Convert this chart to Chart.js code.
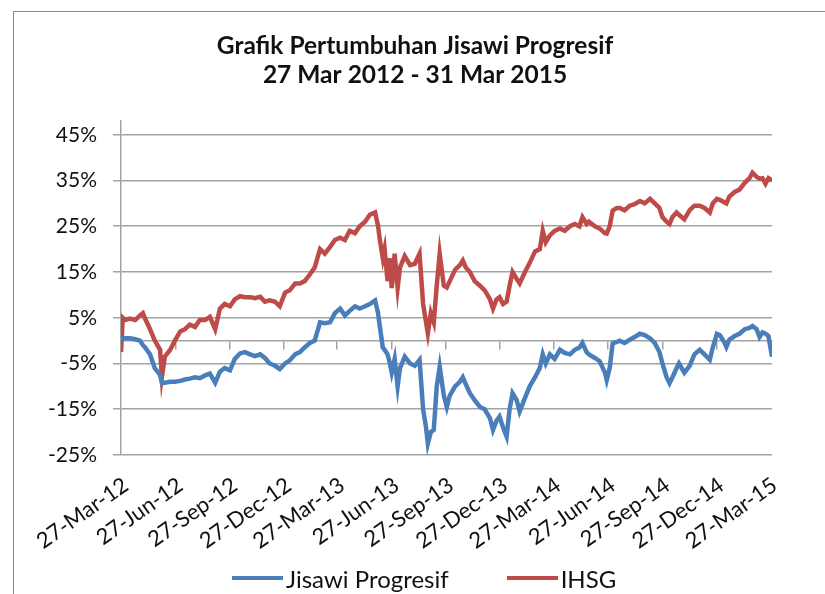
<!DOCTYPE html>
<html><head><meta charset="utf-8">
<script src="https://cdn.jsdelivr.net/npm/chart.js@4.4.1/dist/chart.umd.min.js"></script>
<style>
html,body{margin:0;padding:0;background:#fff;}
#wrap{position:relative;width:825px;height:594px;overflow:hidden;}
#frame{position:absolute;left:13px;top:11px;width:900px;height:700px;border:1px solid #8a8a8a;box-sizing:border-box;}
canvas{position:absolute;left:0;top:0;}
#legend{position:absolute;left:232px;top:563px;height:30px;display:flex;align-items:center;white-space:nowrap;
  font-family:Lato,"Open Sans",sans-serif;font-size:24px;color:#111;}
#legend .item{display:flex;align-items:center;margin-right:58px;}
#legend .sw{display:inline-block;width:51px;height:4px;margin-right:3px;}
</style></head><body>
<div id="wrap"><div id="frame"></div><canvas id="c" width="825" height="594"></canvas><div id="legend"></div></div>
<script>
// days since 27 Mar 2012
const dayOffsets = [0,3,7,15,24,32,37,40,49,57,66,69,74,83,91,100,108,116,125,133,142,150,159,167,175,184,192,201,209,218,226,235,243,251,260,268,277,285,294,302,310,319,327,336,344,353,361,370,378,386,395,403,412,420,429,434,437,442,445,450,454,457,462,467,471,479,488,496,504,510,515,518,523,528,533,538,545,550,555,564,572,577,582,589,597,606,614,623,628,634,639,645,651,656,661,668,673,682,690,699,707,712,717,724,732,741,749,758,766,774,779,786,790,800,808,817,820,825,830,837,842,850,859,867,876,884,893,901,909,914,921,926,931,938,942,951,960,968,977,985,994,999,1006,1011,1019,1022,1027,1036,1044,1053,1061,1066,1073,1078,1083,1088,1093,1099];
const ihsg = [-2.5,5,4.5,4.8,4.5,5.5,6,5,2.5,0,-2,-8,-3.5,-2,0,2,2.5,3.5,3,4.5,4.5,5.2,2.5,7,8,7.5,9,9.7,9.5,9.5,9.3,9.6,8.5,8.8,8.5,7.5,10.5,11,12.5,12.5,13,14.5,16,20,19,20.5,22,22.5,22,24,23.5,25,26,27.5,28,25,22,18,20,13,18,11.5,19,11.5,16,18.5,16.5,16.8,19,8,4,1.6,6,4,12,19,12,11.6,13,15.5,16.5,17.5,16,15,13,12,11,9,7,9,9.5,8,8.5,12,15,13.5,12.5,15,17,19.5,20,24,21.5,23,24,24.5,24,25,25.5,25,27,25.5,26,25,24.5,23.5,23.4,25,28.4,29,29,28.5,29.5,29.8,30.5,30,31,30,29,27,26,25.5,27,28,27.5,26.5,28.5,29.5,29.5,29,28,30,31,30.8,30.2,30,31.5,32.5,33,34.5,35.5,36.7,35.8,35.4,35.5,34.3,35.5,35];
const jisawi = [0,0.5,0.5,0.5,0.3,0,-1,-1.4,-3,-6,-7.5,-9.3,-9.2,-9,-9,-8.8,-8.5,-8.3,-8,-8.2,-7.6,-7.2,-9.2,-6.8,-6,-6.5,-4,-2.8,-2.5,-3,-3.4,-3,-3.8,-5,-5.5,-6.2,-5,-4.3,-3,-2.5,-1.5,-0.5,0,4,3.8,4,6,7,5.5,6.5,7.5,7,7.5,8,8.8,6,3,-1.5,-2,-3,-5,-7,-4,-10,-6,-3.5,-5,-5.5,-4.2,-15,-19,-22.5,-20,-19.5,-10,-5.7,-12,-14.5,-12,-10,-9,-8,-9.5,-11.5,-13,-14.5,-15,-17,-19.5,-17.5,-16.6,-19,-21,-15,-11.5,-13,-15.5,-12.5,-10,-8,-6,-3,-5,-3,-4,-2,-2.7,-3,-2,-1.5,-0.5,-2.5,-3,-3.8,-4.5,-7,-8.6,-6,-0.6,-0.3,0,-0.5,0.2,0.8,1.5,1.2,0.5,-0.5,-2.5,-5,-8,-9.3,-8,-6,-5,-7,-5.5,-3,-2,-3,-4.2,-1.5,1.5,1.2,-0.5,-1.4,0.2,1,1.5,2.5,2.8,3.2,2.5,0.8,1.8,1.5,1,-3.5];
const tickDays = [0,92,184,275,365,457,549,640,730,822,914,1005,1095];
const tickLabels = ['27-Mar-12','27-Jun-12','27-Sep-12','27-Dec-12','27-Mar-13','27-Jun-13','27-Sep-13','27-Dec-13','27-Mar-14','27-Jun-14','27-Sep-14','27-Dec-14','27-Mar-15'];
const yTicks = [-25,-15,-5,5,15,25,35,45];
const seriesNames = ['Jisawi Progresif','IHSG'];
const seriesColors = ['#4a7ebb','#be4b48'];

const gridCol = '#a3a3a3';
const FONT = 'Lato, "Open Sans", sans-serif';
const toPts = arr => dayOffsets.map((d,i)=>({x:d,y:arr[i]}));
const setXTicks = s => { s.ticks = tickDays.map(v=>({value:v})); };

const htmlLegend = {
  id:'htmlLegend',
  afterUpdate(chart){
    const box = document.getElementById('legend');
    box.innerHTML = '';
    const items = Chart.defaults.plugins.legend.labels.generateLabels(chart);
    items.forEach(it=>{
      const d = document.createElement('span'); d.className='item';
      const sw = document.createElement('span'); sw.className='sw'; sw.style.background = it.strokeStyle;
      const t = document.createElement('span'); t.textContent = it.text;
      d.appendChild(sw); d.appendChild(t); box.appendChild(d);
    });
  }
};

new Chart(document.getElementById('c'), {
  type: 'line',
  data: { datasets: [
    {label: seriesNames[0], data: toPts(jisawi), borderColor:seriesColors[0], backgroundColor:seriesColors[0], borderWidth:4.5, pointRadius:0, tension:0, xAxisID:'x', yAxisID:'y'},
    {label: seriesNames[1], data: toPts(ihsg), borderColor:seriesColors[1], backgroundColor:seriesColors[1], borderWidth:4.5, pointRadius:0, tension:0, xAxisID:'x', yAxisID:'y'}
  ]},
  plugins:[htmlLegend],
  options: {
    responsive:false, animation:false, devicePixelRatio:1,
    layout:{padding:{left:5,right:0,top:0,bottom:0}},
    plugins:{
      title:{display:true, text:['Grafik Pertumbuhan Jisawi Progresif','27 Mar 2012 - 31 Mar 2015'],
        font:{family:FONT, size:24.5, weight:'bold', lineHeight:1.184}, color:'#111', padding:{top:31.5,bottom:31.5}},
      legend:{display:false},
      tooltip:{enabled:false}
    },
    scales:{
      x:{type:'linear', position:'bottom', min:0, max:1099,
         grid:{display:false, drawTicks:false}, border:{display:false},
         afterBuildTicks:setXTicks,
         ticks:{autoSkip:false, minRotation:35, maxRotation:35, padding:17, labelOffset:5,
           font:{family:FONT,size:22}, color:'#111', callback:(v,i)=>tickLabels[i]},
         afterFit:s=>{s.height=139;}},
      x2:{type:'linear', position:{y:0}, min:0, max:1099,
         grid:{drawOnChartArea:false, tickLength:8, color:gridCol, lineWidth:1.5},
         border:{color:gridCol, width:1.5},
         afterBuildTicks:setXTicks, ticks:{display:false}},
      y:{type:'linear', position:'left', min:-25, max:48,
         afterBuildTicks:s=>{ s.ticks = yTicks.map(v=>({value:v})); },
         grid:{color:gridCol, lineWidth:1.5, tickLength:8},
         border:{color:gridCol, width:1.5},
         ticks:{padding:16, font:{family:FONT,size:21}, color:'#111', callback:v=>v+'%'},
         afterFit:s=>{s.width=116;}},
      yR:{type:'linear', position:'right', min:0, max:1,
         grid:{display:false, drawTicks:false}, border:{display:false}, ticks:{display:false},
         afterFit:s=>{s.width=53;}}
    }
  }
});
</script>
</body></html>
